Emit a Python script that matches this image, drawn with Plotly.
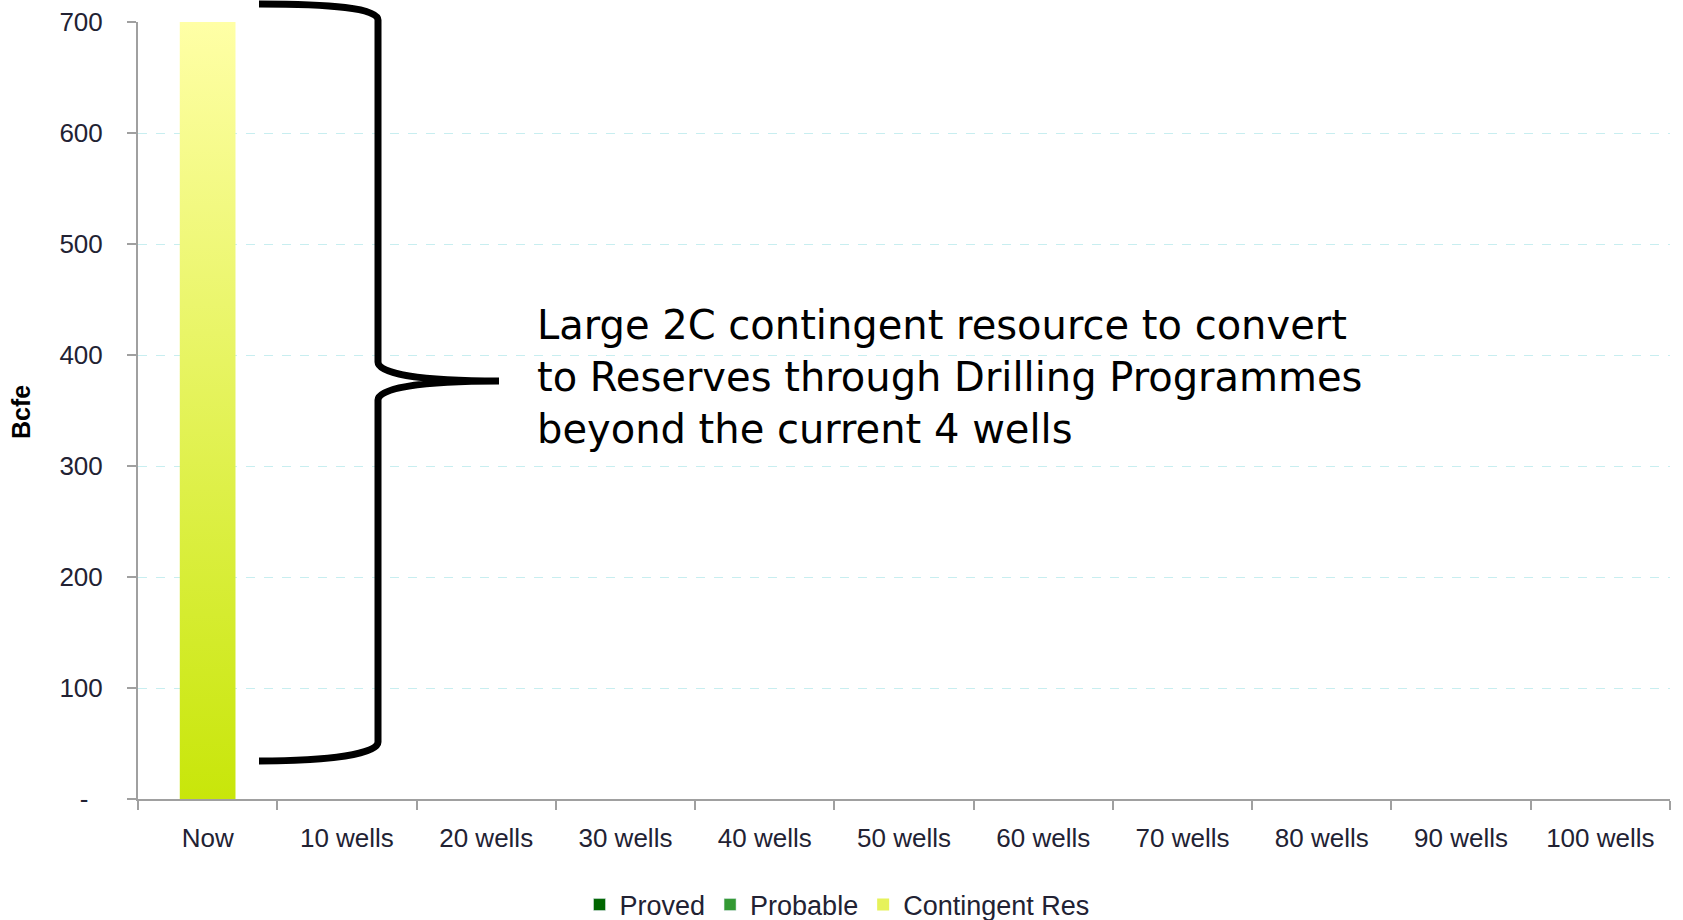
import plotly.graph_objects as go

# ---- data ----
categories = ["Now", "10 wells", "20 wells", "30 wells", "40 wells", "50 wells",
              "60 wells", "70 wells", "80 wells", "90 wells", "100 wells"]
proved = [0, 0, 0, 0, 0, 0, 0, 0, 0, 0, 0]
probable = [0, 0, 0, 0, 0, 0, 0, 0, 0, 0, 0]
contingent = [700, None, None, None, None, None, None, None, None, None, None]
y_tickvals = [0, 100, 200, 300, 400, 500, 600, 700]
y_ticktext = ["-\u00a0\u00a0", "100", "200", "300", "400", "500", "600", "700"]
y_title = "Bcfe"
annotation_text = ("Large 2C contingent resource to convert<br>"
                   "to Reserves through Drilling Programmes<br>"
                   "beyond the current 4 wells")

# ---- style ----
W, H = 1683, 920
ML, MR, MT, MB = 138, 13, 22, 121
PW, PH = W - ML - MR, H - MT - MB
BAR_W = 0.4
C_PROVED = "#006600"
C_PROB = "#339933"
C_TOP = "#FFFFA6"
C_BOT = "#C8E60A"
TICK_FONT = dict(family="Liberation Sans, Arial", size=26, color="#222233")

fig = go.Figure()
fig.add_trace(go.Bar(name="Proved", x=categories, y=proved, marker_color=C_PROVED))
fig.add_trace(go.Bar(name="Probable", x=categories, y=probable, marker_color=C_PROB))
fig.add_trace(go.Bar(name="Contingent Res", x=categories, y=contingent,
                     marker=dict(color="#E6F25A", line_width=0)))

# gradient overlay for the contingent bar(s), on a hidden linear x axis aligned to the categories
for i, v in enumerate(contingent):
    if v is None:
        continue
    fig.add_trace(go.Scatter(
        x=[i - BAR_W / 2, i - BAR_W / 2, i + BAR_W / 2, i + BAR_W / 2, i - BAR_W / 2],
        y=[0, v, v, 0, 0], xaxis="x2", mode="lines", line_width=0,
        fill="toself", showlegend=False, hoverinfo="skip",
        fillgradient=dict(type="vertical", start=0, stop=v,
                          colorscale=[[0, C_BOT], [1, C_TOP]])))


def px2paper(px, py):
    return (px - ML) / PW, (H - MB - py) / PH


brace_pts = [
    ("M", [(259, 4)]),
    ("C", [(330, 4), (378, 8), (378, 20)]),
    ("L", [(378, 362)]),
    ("C", [(378, 374), (420, 381), (499, 381)]),
    ("C", [(420, 381), (378, 388), (378, 400)]),
    ("L", [(378, 742)]),
    ("C", [(378, 754), (330, 761), (259, 761)]),
]
path = ""
for cmd, pts in brace_pts:
    path += cmd + " " + " ".join("%.5f,%.5f" % px2paper(*p) for p in pts) + " "

fig.add_shape(type="path", path=path.strip(), xref="paper", yref="paper",
              line=dict(color="black", width=7))

ax, ay = px2paper(535, 377)
fig.add_annotation(text=annotation_text, xref="paper", yref="paper", x=ax, y=ay,
                   xanchor="left", yanchor="middle", align="left", showarrow=False,
                   font=dict(family="DejaVu Sans", size=40, color="black"))

tx, ty = px2paper(21, 412)
fig.add_annotation(text="<b>%s</b>" % y_title, xref="paper", yref="paper", x=tx, y=ty,
                   xanchor="center", yanchor="middle", textangle=-90, showarrow=False,
                   font=dict(family="Liberation Sans, Arial", size=25, color="black"))

lx, ly = px2paper(837, 905)
fig.update_layout(
    width=W, height=H, autosize=False,
    margin=dict(l=ML, r=MR, t=MT, b=MB, autoexpand=False),
    paper_bgcolor="white", plot_bgcolor="white",
    barmode="stack", bargap=0.6,
    showlegend=True,
    legend=dict(orientation="h", x=lx, y=ly, xanchor="center", yanchor="middle",
                font=dict(family="Liberation Sans, Arial", size=27, color="#222233"),
                itemwidth=30, traceorder="normal"),
    xaxis=dict(type="category", categoryorder="array", categoryarray=categories,
               showline=True, linecolor="#A0A0A0", linewidth=2,
               ticks="outside", tickson="boundaries", ticklen=9, tickwidth=2,
               tickcolor="#A0A0A0", showgrid=False, tickfont=TICK_FONT,
               ticklabelstandoff=15, zeroline=False),
    xaxis2=dict(overlaying="x", range=[-0.5, len(categories) - 0.5], visible=False),
    yaxis=dict(range=[0, 700], tickvals=y_tickvals, ticktext=y_ticktext,
               showline=True, linecolor="#A0A0A0", linewidth=2,
               ticks="outside", ticklen=9, tickwidth=2, tickcolor="#A0A0A0",
               showgrid=True, gridcolor="#C8EEF0", griddash="dash", gridwidth=1,
               zeroline=False, tickfont=TICK_FONT, ticklabelstandoff=19),
)

fig.write_html("out.html", config={"displayModeBar": False},
               post_script="document.body.style.margin='0';")
